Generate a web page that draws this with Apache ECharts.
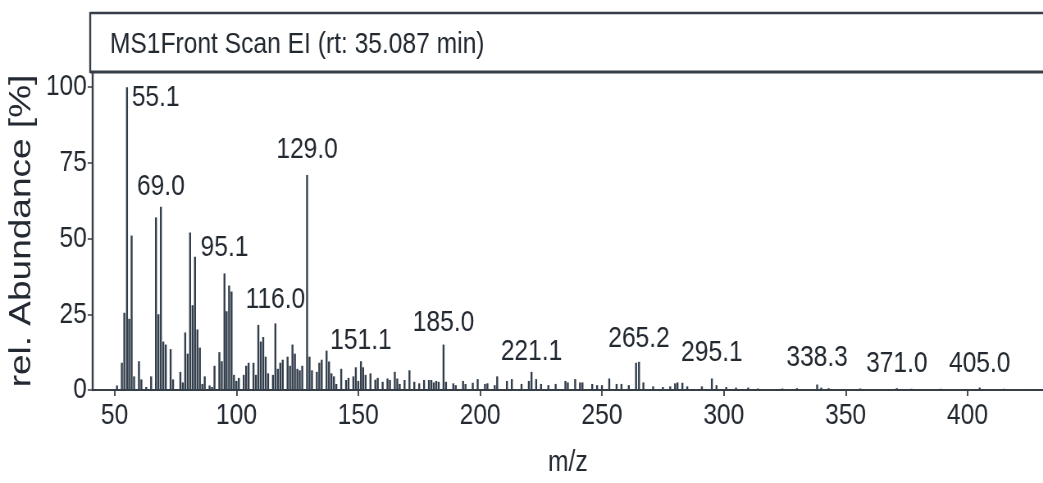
<!DOCTYPE html>
<html>
<head>
<meta charset="utf-8">
<script src="https://cdn.jsdelivr.net/npm/echarts@6/dist/echarts.min.js"></script>
<style>
  html, body { margin: 0; padding: 0; background: #ffffff; overflow: hidden; }
  #frame { width: 1043px; height: 483px; overflow: hidden; position: relative; }
  /* the spectrum is laid out wide and condensed horizontally */
  #chart { width: 1272px; height: 483px; transform: scaleX(0.82); transform-origin: 0 0; }
</style>
</head>
<body>
<div id="frame"><div id="chart"></div></div>
<script>
// EI mass spectrum, scan at rt 35.087 min
const scanTitle = 'MS1Front Scan EI (rt: 35.087 min)';

// m/z of each centroid
const mzValues = [
  51, 53, 54, 55.1, 56, 57, 58, 60, 61, 63, 65, 67, 68, 69.0, 70, 71, 73, 74, 77, 78, 79, 80,
  81, 82, 83, 84, 85, 86, 87, 89, 90, 91, 93, 94, 95.1, 96, 97, 98, 99, 100, 101, 103, 104,
  105, 107, 108, 109, 110, 111, 112, 113, 115, 116.0, 117, 118, 119, 121, 122, 123, 124, 125,
  126, 127, 129.0, 130, 131, 133, 134, 135, 137, 138, 139, 140, 141, 143, 145, 146, 148, 149,
  150, 151.1, 152, 153, 155, 157, 158, 160, 162, 163, 165, 166, 167, 169, 171, 173, 175, 177,
  179, 180, 181, 182, 183, 185.0, 186, 189, 190, 193, 194, 197, 199, 202, 203, 206, 207, 211,
  213, 217, 220, 221.1, 223, 225, 228, 231, 235, 236, 239, 241, 242, 246, 248, 250, 253, 256,
  258, 261, 264, 265.2, 267, 271, 275, 278, 280, 281, 283, 285, 291, 295.1, 297, 301, 305,
  310, 314, 324, 330, 338.3, 340, 343, 356, 371.0, 377, 389, 405.0, 415, 427
];

// relative abundance [%] for each m/z above
const abundance = [
  1.5, 9, 25.5, 100, 23.5, 51, 4.5, 9.5, 3.5, 1, 4.5, 57, 25, 60.5, 16, 15, 13.5, 3.5, 6, 2.5, 19, 12,
  52, 28, 44, 20, 14, 2, 4.5, 1.5, 1, 8, 12.5, 9.5, 38.5, 26, 34.5, 32.5, 5, 3, 4, 5, 8,
  9, 9, 5, 21.5, 16, 17.5, 11, 5.5, 5, 22, 7, 9, 10, 11, 8, 15, 12, 7,
  6.5, 8, 71, 11, 6.5, 6, 9, 10, 13, 9.4, 5.5, 4.5, 2, 7, 3.3, 4, 4.5, 7.5,
  3, 9.5, 7.5, 5, 5.5, 3.4, 4, 2.7, 3.8, 3.3, 6, 3.8, 2, 3.3, 6.5, 2.7, 2.2, 3.3,
  3.3, 3.3, 2.5, 3, 2.7, 15, 2.7, 2.2, 1.6, 3, 2, 2.4, 3.6, 2, 2.2, 1.6, 4.5, 3,
  3.6, 2, 3, 6, 3.6, 2, 1.6, 2, 3, 2.5, 3.6, 2.5, 2.5, 2, 1.6, 1.6, 3.8, 2,
  2, 1.6, 9, 9.3, 2.5, 1.2, 1, 1.2, 2.2, 2.5, 2.4, 1.2, 1.2, 3.8, 1.6, 1, 0.8,
  0.8, 0.5, 0.5, 0.6, 1.8, 0.8, 0.6, 0.5, 0.6, 0.4, 0.4, 0.8, 0.4, 0.3
];

// peaks annotated with their m/z
const labelledMz = [55.1, 69.0, 95.1, 116.0, 129.0, 151.1, 185.0, 221.1, 265.2, 295.1, 338.3, 371.0, 405.0];

const xTickValues = [50, 100, 150, 200, 250, 300, 350, 400];
const yTickValues = [0, 25, 50, 75, 100];

// label placement (gap above the stick, px)
const labelLift = {
  69.0: 5, 95.1: 11, 116.0: 9, 129.0: 10, 151.1: 5, 185.0: 7, 221.1: 5,
  265.2: 8, 295.1: 11, 338.3: 12, 371.0: 9, 405.0: 9
};

const SANS = '"Liberation Sans", Arial, Helvetica, sans-serif';
const INK = '#232931';
const FRAME = '#363e48';

const sticks = mzValues.map((m, i) => {
  const item = { value: [m, abundance[i]] };
  if (labelledMz.indexOf(m) >= 0) {
    const lab = {
      show: true,
      formatter: m.toFixed(1),
      fontFamily: SANS,
      fontSize: 30,
      color: INK
    };
    if (m === 55.1) {
      lab.position = [7, -4];
      lab.align = 'left';
      lab.verticalAlign = 'top';
    } else {
      lab.position = 'top';
      lab.distance = labelLift[m];
    }
    item.label = lab;
  }
  return item;
});

const chart = echarts.init(document.getElementById('chart'), null, { renderer: 'canvas' });

chart.setOption({
  animation: false,
  backgroundColor: '#ffffff',
  title: {
    text: scanTitle,
    left: 134,
    top: 30,
    padding: 0,
    textStyle: { fontFamily: SANS, fontSize: 30, fontWeight: 'normal', color: INK }
  },
  grid: { left: 110, right: -3, top: 72, bottom: 91, containLabel: false },
  xAxis: {
    type: 'value',
    min: 41,
    max: 431,
    name: 'm/z',
    nameLocation: 'middle',
    nameGap: 58,
    nameTextStyle: { fontFamily: SANS, fontSize: 30, color: INK },
    axisLine: { show: true, onZero: false, lineStyle: { color: FRAME, width: 2 } },
    axisTick: { show: true, customValues: xTickValues, length: 6, lineStyle: { color: FRAME, width: 1.8 } },
    axisLabel: { customValues: xTickValues, fontFamily: SANS, fontSize: 30, color: INK, margin: 11 },
    splitLine: { show: false }
  },
  yAxis: {
    type: 'value',
    min: 0,
    max: 105,
    interval: 25,
    name: 'rel. Abundance [%]',
    nameLocation: 'middle',
    nameGap: 58,
    nameTextStyle: { fontFamily: SANS, fontSize: 37, color: INK },
    axisLine: { show: true, lineStyle: { color: FRAME, width: 2.4 } },
    axisTick: { show: true, customValues: yTickValues, length: 6, lineStyle: { color: FRAME, width: 1.5 } },
    axisLabel: { customValues: yTickValues, fontFamily: SANS, fontSize: 30, color: INK, margin: 7 },
    splitLine: { show: false }
  },
  graphic: [
    // header box above the plot
    { type: 'line', shape: { x1: 110, y1: 13, x2: 1276, y2: 13 }, style: { stroke: FRAME, lineWidth: 2.5 } },
    { type: 'line', shape: { x1: 110, y1: 12, x2: 110, y2: 73 }, style: { stroke: FRAME, lineWidth: 2.4 } },
    { type: 'line', shape: { x1: 110, y1: 72, x2: 1276, y2: 72 }, style: { stroke: FRAME, lineWidth: 3 } }
  ],
  series: [{
    type: 'bar',
    barWidth: 2.4,
    itemStyle: { color: '#323e4b' },
    data: sticks,
    z: 2
  }]
});
</script>
</body>
</html>
